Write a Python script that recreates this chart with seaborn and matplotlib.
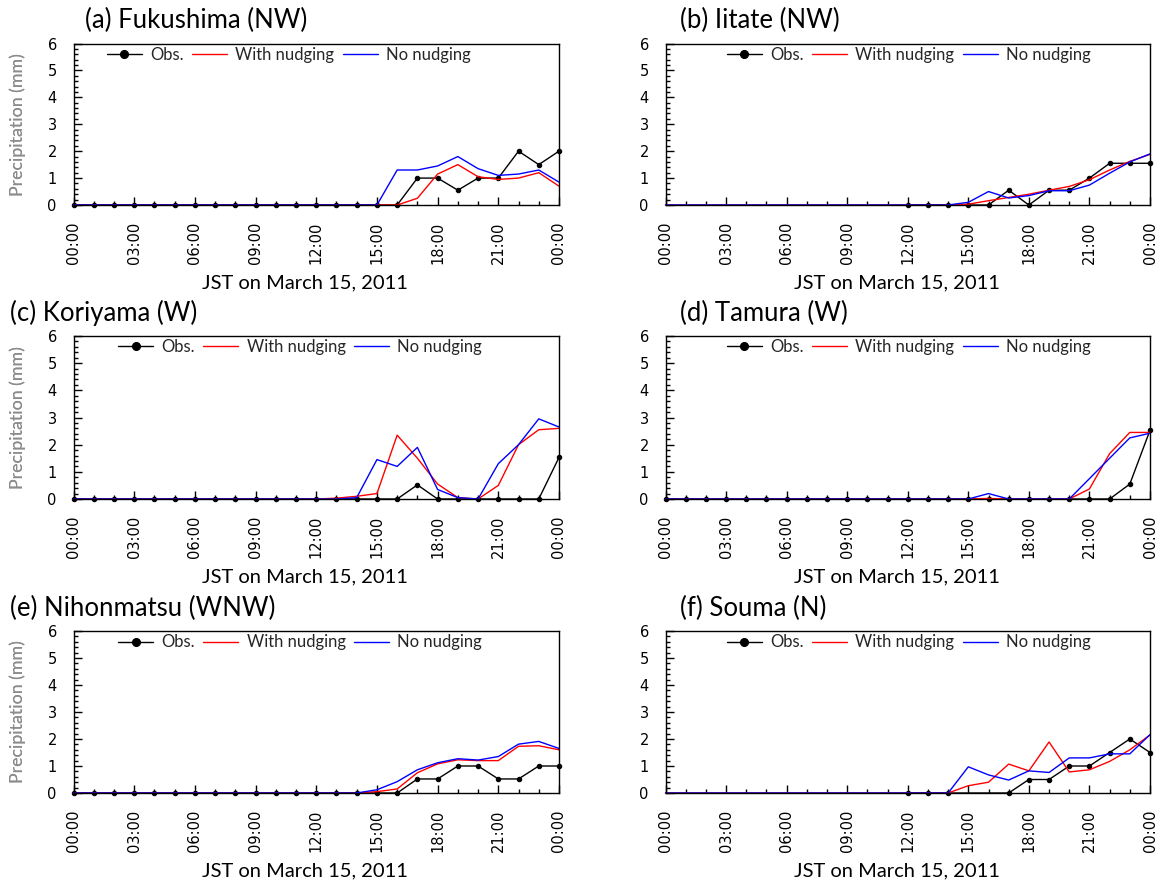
import numpy as np
import matplotlib
matplotlib.use("Agg")
import matplotlib.pyplot as plt
from matplotlib.ticker import MultipleLocator
import seaborn as sns

nan = np.nan

# hourly time axis (JST, March 15 2011)
hours = list(range(25))
tick_hours = [0, 3, 6, 9, 12, 15, 18, 21, 24]
tick_labels = ["00:00", "03:00", "06:00", "09:00", "12:00", "15:00", "18:00", "21:00", "00:00"]

titles = ["(a) Fukushima (NW)", "(b) Iitate (NW)", "(c) Koriyama (W)",
          "(d) Tamura (W)", "(e) Nihonmatsu (WNW)", "(f) Souma (N)"]

# (a) Fukushima
obs_a = [0, 0, 0, 0, 0, 0, 0, 0, 0, 0, 0, 0, 0, 0, 0, 0, 0, 1.0, 1.0, 0.55, 1.0, 1.0, 2.0, 1.5, 2.0]
nud_a = [0, 0, 0, 0, 0, 0, 0, 0, 0, 0, 0, 0, 0, 0, 0, 0, 0, 0.25, 1.15, 1.5, 1.05, 0.95, 1.0, 1.2, 0.7]
non_a = [0, 0, 0, 0, 0, 0, 0, 0, 0, 0, 0, 0, 0, 0, 0, 0, 1.3, 1.3, 1.45, 1.8, 1.35, 1.1, 1.15, 1.3, 0.85]

# (b) Iitate
obs_b = [nan, nan, nan, nan, nan, nan, nan, nan, nan, nan, nan, nan, 0, 0, 0, 0, 0, 0.55, 0, 0.55, 0.55, 1.0, 1.55, 1.55, 1.55]
nud_b = [0, 0, 0, 0, 0, 0, 0, 0, 0, 0, 0, 0, 0, 0, 0, 0.03, 0.16, 0.28, 0.4, 0.55, 0.69, 0.94, 1.3, 1.62, 1.88]
non_b = [0, 0, 0, 0, 0, 0, 0, 0, 0, 0, 0, 0, 0, 0, 0, 0.1, 0.5, 0.26, 0.35, 0.53, 0.53, 0.74, 1.18, 1.6, 1.9]

# (c) Koriyama
obs_c = [0, 0, 0, 0, 0, 0, 0, 0, 0, 0, 0, 0, 0, 0, 0, 0, 0, 0.52, 0, 0, 0, 0, 0, 0, 1.53]
nud_c = [0, 0, 0, 0, 0, 0, 0, 0, 0, 0, 0, 0, 0, 0.03, 0.1, 0.2, 2.35, 1.5, 0.55, 0.05, 0, 0.5, 2.0, 2.55, 2.6]
non_c = [0, 0, 0, 0, 0, 0, 0, 0, 0, 0, 0, 0, 0, 0, 0.05, 1.45, 1.2, 1.9, 0.35, 0.05, 0, 1.3, 2.0, 2.95, 2.65]

# (d) Tamura
obs_d = [0, 0, 0, 0, 0, 0, 0, 0, 0, 0, 0, 0, 0, 0, 0, 0, 0, 0, 0, 0, 0, 0, 0, 0.55, 2.53]
nud_d = [0, 0, 0, 0, 0, 0, 0, 0, 0, 0, 0, 0, 0, 0, 0, 0, 0.02, 0, 0, 0, 0, 0.37, 1.67, 2.45, 2.45]
non_d = [0, 0, 0, 0, 0, 0, 0, 0, 0, 0, 0, 0, 0, 0, 0, 0, 0.2, 0, 0, 0, 0, 0.75, 1.5, 2.25, 2.42]

# (e) Nihonmatsu
obs_e = [0, 0, 0, 0, 0, 0, 0, 0, 0, 0, 0, 0, 0, 0, 0, 0, 0, 0.52, 0.52, 1.0, 1.0, 0.52, 0.52, 1.0, 1.0]
nud_e = [0, 0, 0, 0, 0, 0, 0, 0, 0, 0, 0, 0, 0, 0, 0, 0.05, 0.15, 0.75, 1.08, 1.23, 1.2, 1.2, 1.73, 1.75, 1.6]
non_e = [0, 0, 0, 0, 0, 0, 0, 0, 0, 0, 0, 0, 0, 0, 0, 0.12, 0.42, 0.86, 1.12, 1.27, 1.22, 1.35, 1.81, 1.91, 1.65]

# (f) Souma
obs_f = [nan, nan, nan, nan, nan, nan, nan, nan, nan, nan, nan, nan, 0, 0, 0, nan, nan, 0, 0.5, 0.5, 1.0, 1.0, 1.5, 2.0, 1.5]
nud_f = [0, 0, 0, 0, 0, 0, 0, 0, 0, 0, 0, 0, 0, 0, 0, 0.27, 0.4, 1.07, 0.82, 1.89, 0.78, 0.86, 1.17, 1.6, 2.15]
non_f = [0, 0, 0, 0, 0, 0, 0, 0, 0, 0, 0, 0, 0, 0, 0, 0.97, 0.67, 0.48, 0.82, 0.76, 1.3, 1.3, 1.45, 1.45, 2.16]

obs_all = [obs_a, obs_b, obs_c, obs_d, obs_e, obs_f]
nud_all = [nud_a, nud_b, nud_c, nud_d, nud_e, nud_f]
non_all = [non_a, non_b, non_c, non_d, non_e, non_f]

sns.set_theme(style="white")
plt.rcParams["font.family"] = ["Lato", "DejaVu Sans"]

W, H = 1165, 890
fig = plt.figure(figsize=(W / 100, H / 100), dpi=100)

# panel boxes in pixels: left, top, right, bottom
col_lr = [(73.5, 559), (665.5, 1150)]
row_tb = [(43.5, 205), (336, 499), (631, 793)]
title_x = [85, 680, 10, 680, 10, 680]
legend_x = [0.062, 0.12, 0.085, 0.12, 0.085, 0.12]

for i in range(6):
    r, c = divmod(i, 2)
    l, rr = col_lr[c]
    t, b = row_tb[r]
    ax = fig.add_axes([l / W, 1 - b / H, (rr - l) / W, (b - t) / H])

    sns.lineplot(x=hours, y=obs_all[i], ax=ax, color="black", linewidth=1,
                 marker="o", markersize=3.2, markeredgecolor="black",
                 label="Obs.", errorbar=None, clip_on=False)
    sns.lineplot(x=hours, y=nud_all[i], ax=ax, color="red", linewidth=1,
                 label="With nudging", errorbar=None, clip_on=False)
    sns.lineplot(x=hours, y=non_all[i], ax=ax, color="blue", linewidth=1,
                 label="No nudging", errorbar=None, clip_on=False)

    ax.set_xlim(0, 24)
    ax.set_ylim(0, 6)
    ax.set_xticks(tick_hours)
    ax.set_xticklabels(tick_labels, rotation=90, fontsize=10.5, family="DejaVu Sans")
    ax.xaxis.set_minor_locator(MultipleLocator(1))
    ax.yaxis.set_major_locator(MultipleLocator(1))
    ax.yaxis.set_minor_locator(MultipleLocator(0.2))
    for lab in ax.get_yticklabels():
        lab.set_fontsize(10.5)
        lab.set_family("DejaVu Sans")
    ax.tick_params(which="both", direction="in", colors="black", width=1,
                   top=False, right=False, bottom=True, left=True)
    ax.tick_params(which="major", length=6)
    ax.tick_params(which="minor", length=3)
    ax.tick_params(axis="x", which="major", pad=12)
    ax.tick_params(axis="y", which="major", pad=12)
    for s in ax.spines.values():
        s.set_color("black")
        s.set_linewidth(1)

    ax.set_ylabel("Precipitation (mm)", fontsize=12.8, color="#8c8c8c", va="center")
    ax.yaxis.set_label_coords((18 - l) / (rr - l), 0.5)
    ax.set_xlabel("JST on March 15, 2011", fontsize=14.5, color="black", va="center")
    ax.xaxis.set_label_coords(0.477, -(78) / (b - t))

    ax.legend(loc="upper left", bbox_to_anchor=(legend_x[i], 1.0), ncol=3,
              frameon=False, fontsize=12, handlelength=2.1, handletextpad=0.5,
              columnspacing=0.5, borderaxespad=0, borderpad=0.2, markerscale=1.8)

    fig.text(title_x[i] / W, 1 - (t - 23) / H, titles[i], fontsize=18.5,
             ha="left", va="center", color="black")

fig.savefig("out.png", dpi=100)
